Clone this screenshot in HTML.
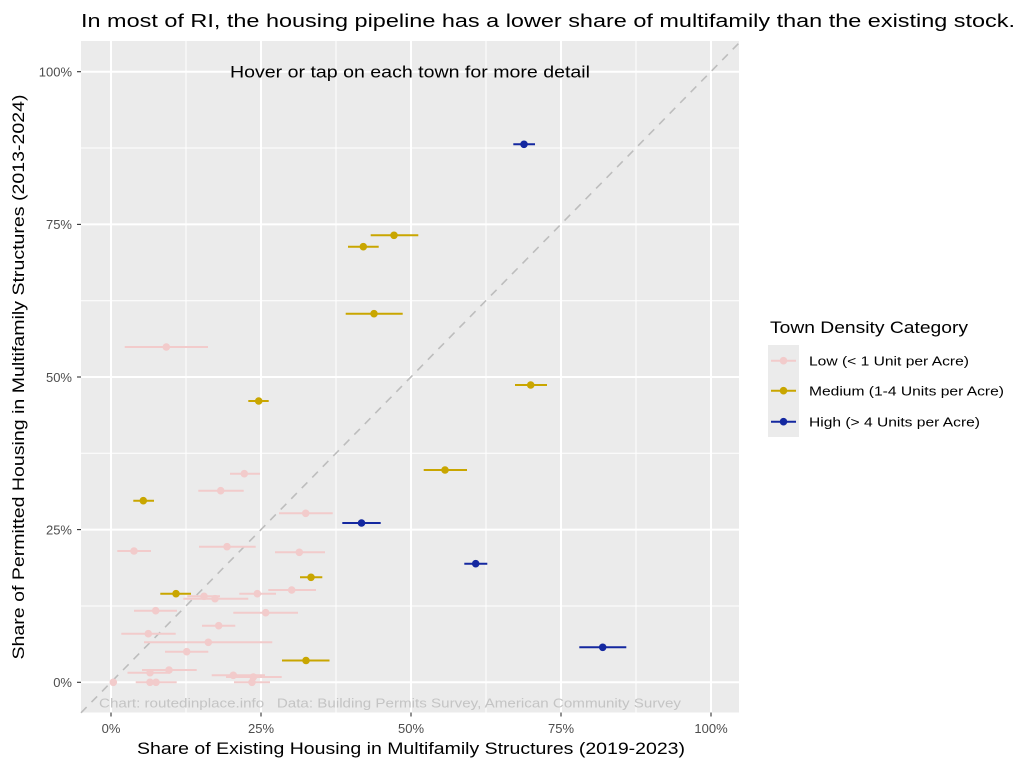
<!DOCTYPE html>
<html>
<head>
<meta charset="utf-8">
<style>
html,body{margin:0;padding:0;background:#fff;}
svg{display:block;}
text{font-family:"Liberation Sans",Arial,sans-serif;}
</style>
</head>
<body>
<svg width="1024" height="768" viewBox="0 0 1024 768" xmlns="http://www.w3.org/2000/svg">
<rect x="0" y="0" width="1024" height="768" fill="#ffffff"/>
<!-- title -->
<text x="81" y="27" font-size="18.6" fill="#000" textLength="934" lengthAdjust="spacingAndGlyphs">In most of RI, the housing pipeline has a lower share of multifamily than the existing stock.</text>

<!-- panel -->
<rect x="81" y="41" width="658" height="671.5" fill="#EBEBEB"/>
<!-- minor grid -->
<g stroke="#ffffff" stroke-width="1">
<line x1="186" y1="41" x2="186" y2="712.5"/>
<line x1="336" y1="41" x2="336" y2="712.5"/>
<line x1="486" y1="41" x2="486" y2="712.5"/>
<line x1="636" y1="41" x2="636" y2="712.5"/>
<line x1="81" y1="148" x2="739" y2="148"/>
<line x1="81" y1="300.7" x2="739" y2="300.7"/>
<line x1="81" y1="453.3" x2="739" y2="453.3"/>
<line x1="81" y1="606" x2="739" y2="606"/>
</g>
<!-- major grid -->
<g stroke="#ffffff" stroke-width="2">
<line x1="111" y1="41" x2="111" y2="712.5"/>
<line x1="261" y1="41" x2="261" y2="712.5"/>
<line x1="411" y1="41" x2="411" y2="712.5"/>
<line x1="561" y1="41" x2="561" y2="712.5"/>
<line x1="711" y1="41" x2="711" y2="712.5"/>
<line x1="81" y1="71.7" x2="739" y2="71.7"/>
<line x1="81" y1="224.4" x2="739" y2="224.4"/>
<line x1="81" y1="377" x2="739" y2="377"/>
<line x1="81" y1="529.6" x2="739" y2="529.6"/>
<line x1="81" y1="682.3" x2="739" y2="682.3"/>
</g>

<!-- diagonal -->
<line x1="81" y1="712.8" x2="739" y2="43" stroke="#BDBDBD" stroke-width="1.6" stroke-dasharray="8,7"/>

<!-- annotation -->
<text x="410" y="77.5" font-size="16.5" fill="#000" text-anchor="middle" textLength="360" lengthAdjust="spacingAndGlyphs">Hover or tap on each town for more detail</text>

<!-- caption -->
<text x="99" y="707.5" font-size="13" fill="#C4C4C4" textLength="582" lengthAdjust="spacingAndGlyphs">Chart: routedinplace.info&#160;&#160;&#160;Data: Building Permits Survey, American Community Survey</text>

<!-- Low -->
<g stroke="#F2CBCB" stroke-width="2" fill="#F2CBCB">
<line x1="124.7" y1="347" x2="208" y2="347"/><circle cx="166.3" cy="347" r="3.8" stroke="none"/>
<line x1="230" y1="473.7" x2="260" y2="473.7"/><circle cx="244.3" cy="473.7" r="3.8" stroke="none"/>
<line x1="198.3" y1="490.7" x2="243.7" y2="490.7"/><circle cx="220.7" cy="490.7" r="3.8" stroke="none"/>
<line x1="279" y1="513.3" x2="332.7" y2="513.3"/><circle cx="305.7" cy="513.3" r="3.8" stroke="none"/>
<line x1="117.3" y1="551" x2="151" y2="551"/><circle cx="134" cy="551" r="3.8" stroke="none"/>
<line x1="199" y1="546.7" x2="255.7" y2="546.7"/><circle cx="227" cy="546.7" r="3.8" stroke="none"/>
<line x1="275" y1="552.3" x2="325" y2="552.3"/><circle cx="299.3" cy="552.3" r="3.8" stroke="none"/>
<line x1="187.3" y1="596.3" x2="220" y2="596.3"/><circle cx="204" cy="596.3" r="3.8" stroke="none"/>
<line x1="183.3" y1="598.7" x2="248.3" y2="598.7"/><circle cx="215" cy="598.7" r="3.8" stroke="none"/>
<line x1="239.3" y1="593.7" x2="276" y2="593.7"/><circle cx="257.3" cy="593.7" r="3.8" stroke="none"/>
<line x1="268.3" y1="590" x2="316" y2="590"/><circle cx="291.7" cy="590" r="3.8" stroke="none"/>
<line x1="134" y1="610.7" x2="177" y2="610.7"/><circle cx="155.7" cy="610.7" r="3.8" stroke="none"/>
<line x1="233.3" y1="612.7" x2="298" y2="612.7"/><circle cx="265.7" cy="612.7" r="3.8" stroke="none"/>
<line x1="202" y1="625.7" x2="235.3" y2="625.7"/><circle cx="218.7" cy="625.7" r="3.8" stroke="none"/>
<line x1="121.3" y1="633.7" x2="175.7" y2="633.7"/><circle cx="148.3" cy="633.7" r="3.8" stroke="none"/>
<line x1="144" y1="642.3" x2="272.3" y2="642.3"/><circle cx="208.3" cy="642.3" r="3.8" stroke="none"/>
<line x1="165" y1="651.7" x2="208.3" y2="651.7"/><circle cx="186.7" cy="651.7" r="3.8" stroke="none"/>
<line x1="142" y1="670" x2="196.7" y2="670"/><circle cx="169" cy="670" r="3.8" stroke="none"/>
<line x1="127.5" y1="672.7" x2="170" y2="672.7"/><circle cx="150" cy="672.7" r="3.8" stroke="none"/>
<line x1="211.7" y1="675.3" x2="265" y2="675.3"/><circle cx="233.3" cy="675.3" r="3.8" stroke="none"/>
<line x1="226" y1="677" x2="281.7" y2="677"/><circle cx="253.3" cy="677" r="3.8" stroke="none"/>
<circle cx="113.3" cy="682.3" r="3.8" stroke="none"/>
<line x1="135.7" y1="682.3" x2="176.7" y2="682.3"/><circle cx="150" cy="682.3" r="3.8" stroke="none"/><circle cx="156" cy="682.3" r="3.8" stroke="none"/>
<line x1="234" y1="682.3" x2="270" y2="682.3"/><circle cx="252" cy="682.3" r="3.8" stroke="none"/>
</g>

<!-- Medium -->
<g stroke="#C9A600" stroke-width="2" fill="#C9A600">
<line x1="370.7" y1="235.3" x2="418.3" y2="235.3"/><circle cx="394" cy="235.3" r="3.8" stroke="none"/>
<line x1="348" y1="246.7" x2="378.7" y2="246.7"/><circle cx="363.3" cy="246.7" r="3.8" stroke="none"/>
<line x1="345.7" y1="313.7" x2="402.7" y2="313.7"/><circle cx="374" cy="313.7" r="3.8" stroke="none"/>
<line x1="515" y1="385" x2="547" y2="385"/><circle cx="530.7" cy="385" r="3.8" stroke="none"/>
<line x1="248.3" y1="401" x2="268.7" y2="401"/><circle cx="258.7" cy="401" r="3.8" stroke="none"/>
<line x1="423.7" y1="470" x2="467" y2="470"/><circle cx="445" cy="470" r="3.8" stroke="none"/>
<line x1="133.3" y1="500.7" x2="154" y2="500.7"/><circle cx="143.3" cy="500.7" r="3.8" stroke="none"/>
<line x1="300" y1="577.3" x2="322.3" y2="577.3"/><circle cx="311" cy="577.3" r="3.8" stroke="none"/>
<line x1="160.3" y1="593.7" x2="191" y2="593.7"/><circle cx="176" cy="593.7" r="3.8" stroke="none"/>
<line x1="282" y1="660.5" x2="329.5" y2="660.5"/><circle cx="306" cy="660.5" r="3.8" stroke="none"/>
</g>

<!-- High -->
<g stroke="#1428A0" stroke-width="2" fill="#1428A0">
<line x1="513.3" y1="144.3" x2="535" y2="144.3"/><circle cx="524" cy="144.3" r="3.8" stroke="none"/>
<line x1="342.3" y1="523" x2="380.7" y2="523"/><circle cx="361.5" cy="523" r="3.8" stroke="none"/>
<line x1="464.3" y1="563.7" x2="487.3" y2="563.7"/><circle cx="475.7" cy="563.7" r="3.8" stroke="none"/>
<line x1="579.3" y1="647.3" x2="626.3" y2="647.3"/><circle cx="602.7" cy="647.3" r="3.8" stroke="none"/>
</g>

<!-- ticks -->
<g stroke="#333333" stroke-width="1.1">
<line x1="77" y1="71.7" x2="81" y2="71.7"/>
<line x1="77" y1="224.4" x2="81" y2="224.4"/>
<line x1="77" y1="377" x2="81" y2="377"/>
<line x1="77" y1="529.6" x2="81" y2="529.6"/>
<line x1="77" y1="682.3" x2="81" y2="682.3"/>
<line x1="111" y1="712.5" x2="111" y2="716.5"/>
<line x1="261" y1="712.5" x2="261" y2="716.5"/>
<line x1="411" y1="712.5" x2="411" y2="716.5"/>
<line x1="561" y1="712.5" x2="561" y2="716.5"/>
<line x1="711" y1="712.5" x2="711" y2="716.5"/>
</g>
<g font-size="13" fill="#4D4D4D" text-anchor="end">
<text x="72" y="76.5">100%</text>
<text x="72" y="229.2">75%</text>
<text x="72" y="381.8">50%</text>
<text x="72" y="534.4">25%</text>
<text x="72" y="687.1">0%</text>
</g>
<g font-size="13" fill="#4D4D4D" text-anchor="middle">
<text x="111" y="733">0%</text>
<text x="261" y="733">25%</text>
<text x="411" y="733">50%</text>
<text x="561" y="733">75%</text>
<text x="711" y="733">100%</text>
</g>

<!-- axis titles -->
<text x="411" y="754" font-size="17" fill="#000" text-anchor="middle" textLength="548" lengthAdjust="spacingAndGlyphs">Share of Existing Housing in Multifamily Structures (2019-2023)</text>
<text transform="translate(24,377) rotate(-90)" x="0" y="0" font-size="17" fill="#000" text-anchor="middle" textLength="565" lengthAdjust="spacingAndGlyphs">Share of Permitted Housing in Multifamily Structures (2013-2024)</text>

<!-- legend -->
<text x="770" y="333" font-size="16.5" fill="#000" textLength="198" lengthAdjust="spacingAndGlyphs">Town Density Category</text>
<rect x="768" y="345" width="31" height="92" fill="#EBEBEB"/>
<g stroke-width="2">
<line x1="771" y1="360.7" x2="796" y2="360.7" stroke="#F2CBCB"/><circle cx="783.5" cy="360.7" r="3.8" fill="#F2CBCB"/>
<line x1="771" y1="390.7" x2="796" y2="390.7" stroke="#C9A600"/><circle cx="783.5" cy="390.7" r="3.8" fill="#C9A600"/>
<line x1="771" y1="421.7" x2="796" y2="421.7" stroke="#1428A0"/><circle cx="783.5" cy="421.7" r="3.8" fill="#1428A0"/>
</g>
<g font-size="13" fill="#000">
<text x="809" y="365.3" textLength="160" lengthAdjust="spacingAndGlyphs">Low (&lt; 1 Unit per Acre)</text>
<text x="809" y="395.3" textLength="195" lengthAdjust="spacingAndGlyphs">Medium (1-4 Units per Acre)</text>
<text x="809" y="426.3" textLength="171" lengthAdjust="spacingAndGlyphs">High (&gt; 4 Units per Acre)</text>
</g>
</svg>
</body>
</html>
